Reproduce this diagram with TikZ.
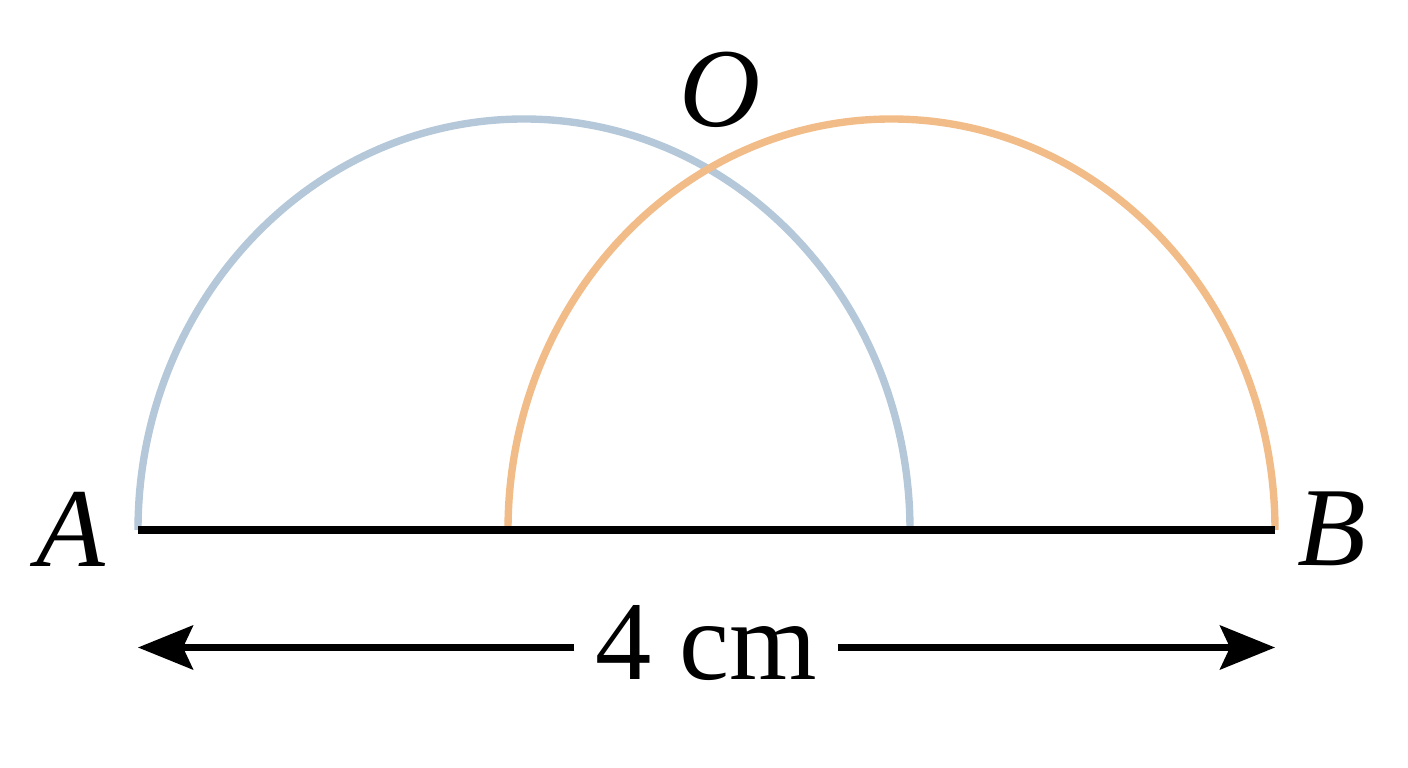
\documentclass[tikz,border=0pt]{standalone}
\usepackage{fontspec}
\setmainfont{Liberation Serif}
\usetikzlibrary{arrows.meta,positioning}

\definecolor{arcblue}{HTML}{B4C8DA}
\definecolor{arcorange}{HTML}{F2BC88}

\tikzset{
	arcline/.style={line width=2.1pt},
	baseline/.style={line width=2pt, black},
	dimline/.style={line width=1.8pt, black, -{Stealth[length=0.55cm,width=0.44cm,inset=0.1cm]}},
	ptlabel/.style={font=\fontsize{32}{38}\selectfont\itshape, inner sep=0pt},
}

\begin{document}
\begin{tikzpicture}
	\useasboundingbox (0,0) rectangle (14.08,7.68);

	\coordinate (A) at (1.38,2.38);
	\coordinate (B) at (12.75,2.38);
	\coordinate (Mo) at (5.08,2.38);
	\coordinate (Mb) at (9.10,2.38);

	% the two half arcs
	\draw [arcline, arcblue] (A) arc [start angle=180, end angle=0, x radius=3.86, y radius=4.11];
	\draw [arcline, arcorange] (Mo) arc [start angle=180, end angle=0, x radius=3.835, y radius=4.11];

	\draw [baseline] (A) -- (B);

	% dimension
	\coordinate (dl) at (1.38,1.205);
	\coordinate (dr) at (12.75,1.205);
	\node [inner sep=0.2cm, font=\fontsize{32}{38}\selectfont] (len) at (7.06,1.25) {4 cm};
	\draw [dimline] (len.west |- dl) -- (dl);
	\draw [dimline] (len.east |- dr) -- (dr);

	\node [ptlabel] (lA) at (0.71,2.39) {A};
	\node [ptlabel] (lB) at (13.32,2.39) {B};
	\node [ptlabel] (lO) at (7.20,6.78) {O};
\end{tikzpicture}
\end{document}
